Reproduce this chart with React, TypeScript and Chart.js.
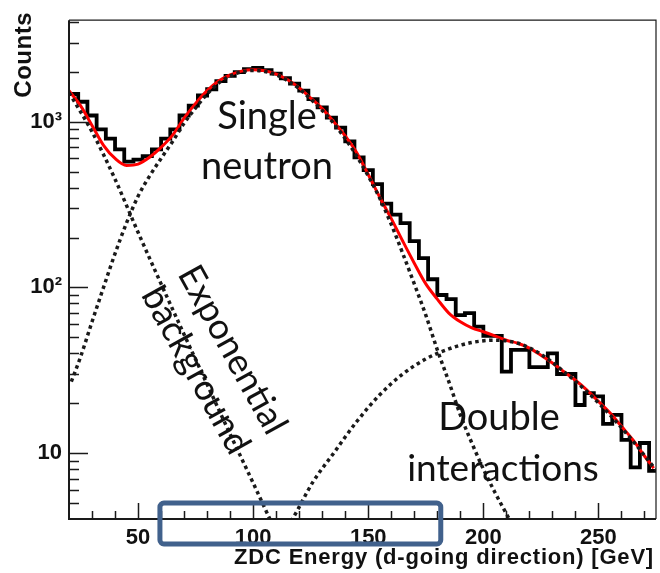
import React, { useEffect, useRef } from 'react';
import { Chart, registerables } from 'chart.js';

Chart.register(...registerables);

// ---------- data ----------
const binEdges = [
  20, 24, 28, 32, 36, 40, 44, 48, 52, 56, 60, 64, 68, 72, 76, 80, 84, 88, 92, 96,
  100, 104, 108, 112, 116, 120, 124, 128, 132, 136, 140, 144, 148, 152, 156, 160,
  164, 168, 172, 176, 180, 184, 188, 192, 196, 200, 204, 208, 212, 216, 220, 224,
  228, 232, 236, 240, 244, 248, 252, 256, 260, 264, 268, 272,
];
const binUpperEdge = 276;
const counts = [
  1470, 1320, 1090, 900, 790, 680, 575, 590, 620, 680, 790, 900, 1090, 1250, 1440, 1570, 1760, 1890, 1990, 2080,
  2110, 2050, 1950, 1830, 1700, 1540, 1370, 1220, 1060, 920, 760, 610, 510, 420, 320, 275,
  244, 190, 150, 112, 90, 85, 68, 70, 58, 51, 51, 31, 42, 42, 33, 33,
  40, 30, 30, 19.5, 23, 22, 15, 17, 12, 8.2, 11.5, 7.8,
];

const fitEnergy = [
  20, 25, 30, 35, 40, 45, 50, 55, 60, 65, 70, 75, 80, 85, 90, 95, 100, 105, 110, 115,
  120, 125, 130, 135, 140, 145, 150, 155, 160, 165, 170, 175, 180, 185, 190, 195, 200,
  205, 210, 215, 220, 225, 230, 235, 240, 245, 250, 255, 260, 265, 270, 274,
];
const fitCounts = [
  1540, 1250, 950, 720, 600, 545, 555, 610, 700, 830, 1050, 1290, 1540, 1760, 1920, 2020, 2060, 2030, 1940, 1790,
  1600, 1390, 1200, 1000, 820, 650, 480, 350, 260, 190, 140, 105, 85, 70, 62, 57, 54,
  51, 48, 46, 43, 39, 35, 31, 27.5, 24, 20.5, 17.5, 14.5, 12, 9.6, 8.1,
];

const expEnergy = [20, 30, 40, 50, 60, 70, 80, 90, 100, 110];
const expCounts = [1500, 870, 450, 215, 105, 52, 26, 13, 6.6, 3.3];

const gausEnergy = [
  21, 25, 30, 35, 40, 45, 50, 55, 60, 65, 70, 75, 80, 85, 90, 95, 100, 105, 110, 115,
  120, 125, 130, 135, 140, 145, 150, 155, 160, 165, 170, 175, 180, 185, 190, 195, 200, 205, 210, 214,
];
const gausCounts = [
  27, 38, 62, 100, 160, 245, 355, 470, 600, 760, 980, 1210, 1470, 1710, 1890, 2000, 2040, 2010, 1920, 1770,
  1580, 1370, 1170, 975, 790, 620, 470, 345, 240, 160, 105, 68, 42, 27, 17, 11.5, 8, 5.8, 4.3, 3.4,
];

const dblEnergy = [113, 117.5, 126, 135, 145, 155, 165, 175, 185, 195, 205, 215, 225, 235, 245, 255, 265, 275];
const dblCounts = [3.3, 4.1, 6.7, 10, 15.5, 22.5, 30, 37, 42.5, 46.5, 48, 46, 39.5, 31, 23.5, 17, 11.8, 7.9];

const xMajorTicks = [50, 100, 150, 200, 250];
const xMinorTicks = [30, 40, 60, 70, 80, 90, 110, 120, 130, 140, 160, 170, 180, 190, 210, 220, 230, 240, 260, 270];
const yMajorTicks = [10, 100, 1000];
const yTickLabels = ['10', '10²', '10³'];
const yMinorTicks = [5, 6, 7, 8, 9, 20, 30, 40, 50, 60, 70, 80, 90, 200, 300, 400, 500, 600, 700, 800, 900, 2000, 3000, 4000];

const xTitle = 'ZDC Energy (d-going direction) [GeV]';
const yTitle = 'Counts';
const selRange = [59.5, 181.5];

const X_MIN = 20;
const X_MAX = 275;
const Y_MIN = 4;
const Y_MAX = 4100;

const pts = (xs: number[], ys: number[]) => xs.map((x, i) => ({ x, y: ys[i] }));

const rootStyle = {
  id: 'rootStyle',
  afterDraw(chart: any) {
    const ctx: CanvasRenderingContext2D = chart.ctx;
    const { left, right, top, bottom } = chart.chartArea;
    const xs = chart.scales.x;
    const ys = chart.scales.y;
    ctx.save();

    // frame
    ctx.strokeStyle = '#1a1a1a';
    ctx.lineWidth = 2;
    ctx.beginPath();
    ctx.moveTo(left, top);
    ctx.lineTo(left, bottom);
    ctx.lineTo(right, bottom);
    ctx.stroke();
    ctx.lineWidth = 1.2;
    ctx.beginPath();
    ctx.moveTo(left, top);
    ctx.lineTo(right, top);
    ctx.lineTo(right, bottom);
    ctx.stroke();

    // ticks
    ctx.lineWidth = 1.5;
    ctx.beginPath();
    for (const v of xMajorTicks) {
      const p = Math.round(xs.getPixelForValue(v)) + 0.5;
      ctx.moveTo(p, bottom);
      ctx.lineTo(p, bottom - 16);
    }
    for (const v of xMinorTicks) {
      const p = Math.round(xs.getPixelForValue(v)) + 0.5;
      ctx.moveTo(p, bottom);
      ctx.lineTo(p, bottom - 8);
    }
    for (const v of yMajorTicks) {
      const p = Math.round(ys.getPixelForValue(v)) + 0.5;
      ctx.moveTo(left, p);
      ctx.lineTo(left + 19, p);
    }
    for (const v of yMinorTicks) {
      const p = Math.round(ys.getPixelForValue(v)) + 0.5;
      ctx.moveTo(left, p);
      ctx.lineTo(left + 10, p);
    }
    ctx.stroke();

    // axis titles
    ctx.fillStyle = '#111';
    ctx.font = 'bold 22px "Liberation Sans", Arial, sans-serif';
    (ctx as any).letterSpacing = '0.8px';
    ctx.textAlign = 'right';
    ctx.textBaseline = 'alphabetic';
    ctx.fillText(xTitle, 654, 564);
    ctx.save();
    ctx.translate(31, 12);
    ctx.rotate(-Math.PI / 2);
    ctx.font = 'bold 24px "Liberation Sans", Arial, sans-serif';
    (ctx as any).letterSpacing = '0.5px';
    ctx.textAlign = 'right';
    ctx.fillText(yTitle, 0, 0);
    ctx.restore();
    (ctx as any).letterSpacing = '0px';

    // annotations
    ctx.fillStyle = '#111';
    ctx.font = '38px Lato, "Open Sans", sans-serif';
    ctx.textAlign = 'center';
    ctx.textBaseline = 'alphabetic';
    ctx.fillText('Single', 267, 129);
    ctx.fillText('neutron', 267, 179);
    ctx.fillText('Double', 499, 430);
    ctx.font = '37px Lato, "Open Sans", sans-serif';
    ctx.fillText('interactions', 503, 481);

    ctx.save();
    ctx.translate(214, 360);
    ctx.rotate((61 * Math.PI) / 180);
    ctx.font = '36px Lato, "Open Sans", sans-serif';
    ctx.textBaseline = 'middle';
    ctx.fillText('Exponential', 0, -21);
    ctx.fillText('background', 0, 21);
    ctx.restore();

    // selection box
    const bx0 = xs.getPixelForValue(selRange[0]);
    const bx1 = xs.getPixelForValue(selRange[1]);
    ctx.strokeStyle = '#41618c';
    ctx.lineWidth = 5;
    ctx.beginPath();
    (ctx as any).roundRect(bx0, 503, bx1 - bx0, 41, 4);
    ctx.stroke();

    ctx.restore();
  },
};

export default function App() {
  const ref = useRef<HTMLCanvasElement>(null);
  useEffect(() => {
    document.body.style.margin = '0';
    const histData = pts(binEdges, counts);
    histData.push({ x: binUpperEdge, y: counts[counts.length - 1] });
    const dotted = {
      borderColor: '#1a1a1a',
      borderWidth: 3.5,
      borderDash: [3.5, 3.5],
      pointRadius: 0,
      cubicInterpolationMode: 'monotone',
      order: 0,
    };
    const chart = new Chart(ref.current as HTMLCanvasElement, {
      type: 'line',
      data: {
        datasets: [
          { label: 'exp', data: pts(expEnergy, expCounts), ...dotted },
          { label: 'gaus', data: pts(gausEnergy, gausCounts), ...dotted },
          { label: 'double', data: pts(dblEnergy, dblCounts), ...dotted },
          {
            label: 'fit',
            data: pts(fitEnergy, fitCounts),
            borderColor: '#ff0000',
            borderWidth: 3,
            pointRadius: 0,
            cubicInterpolationMode: 'monotone',
            order: 1,
          },
          {
            label: 'data',
            data: histData,
            borderColor: '#000',
            borderWidth: 3.8,
            pointRadius: 0,
            stepped: true,
            order: 2,
          },
        ],
      } as any,
      options: {
        responsive: false,
        animation: false,
        devicePixelRatio: 1,
        layout: { padding: { top: 10, right: 4, left: 0, bottom: 0 } },
        plugins: { legend: { display: false }, tooltip: { enabled: false } },
        scales: {
          x: {
            type: 'linear',
            min: X_MIN,
            max: X_MAX,
            grid: { display: false, drawTicks: false },
            border: { display: false },
            afterBuildTicks: (s: any) => {
              s.ticks = xMajorTicks.map((value) => ({ value }));
            },
            afterFit: (s: any) => {
              s.height = 54;
            },
            ticks: {
              padding: 6,
              color: '#111',
              autoSkip: false,
              maxRotation: 0,
              font: { family: '"Liberation Sans", Arial, sans-serif', size: 22, weight: 'bold' },
              callback: (v: any) => String(v),
            },
          },
          y: {
            type: 'logarithmic',
            min: Y_MIN,
            max: Y_MAX,
            grid: { display: false, drawTicks: false },
            border: { display: false },
            afterBuildTicks: (s: any) => {
              s.ticks = yMajorTicks.map((value) => ({ value }));
            },
            afterFit: (s: any) => {
              s.width = 69;
            },
            ticks: {
              padding: 7,
              color: '#111',
              autoSkip: false,
              font: { family: '"Liberation Sans", Arial, sans-serif', size: 22, weight: 'bold' },
              callback: (v: any) => {
                const i = yMajorTicks.indexOf(Number(v));
                return i >= 0 ? yTickLabels[i] : '';
              },
            },
          },
        },
      } as any,
      plugins: [rootStyle],
    });
    return () => chart.destroy();
  }, []);
  return <canvas ref={ref} width={660} height={573} style={{ display: 'block', width: 660, height: 573 }} />;
}
